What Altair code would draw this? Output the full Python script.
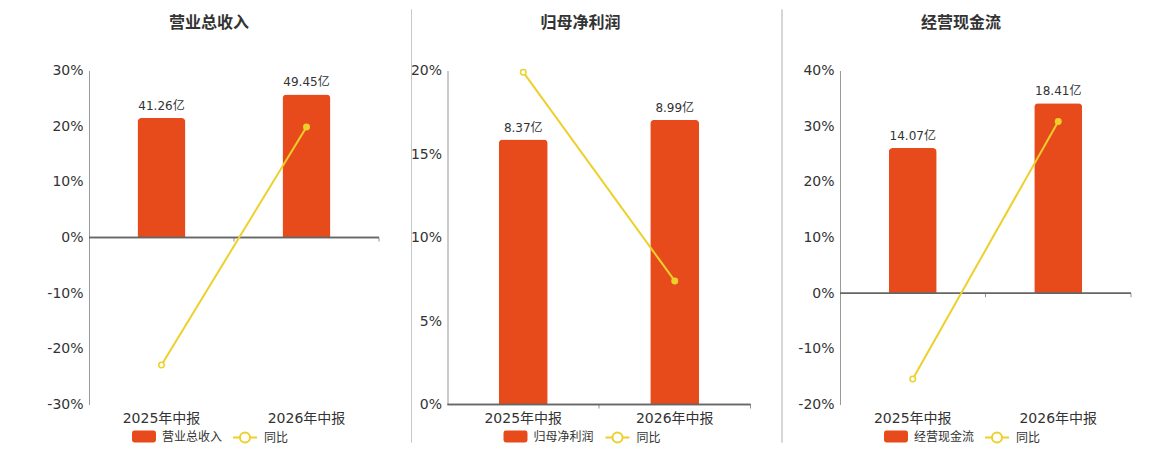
import altair as alt
import pandas as pd

categories = ["2025年中报", "2026年中报"]
panel_titles = ["营业总收入", "归母净利润", "经营现金流"]

revenue_amount = [41.26, 49.45]
revenue_yoy = [-22.9, 19.85]
profit_amount = [8.37, 8.99]
profit_yoy = [19.9, 7.4]
cash_amount = [14.07, 18.41]
cash_yoy = [-15.4, 30.85]

yoy_ticks = [[-30, -20, -10, 0, 10, 20, 30], [0, 5, 10, 15, 20], [-20, -10, 0, 10, 20, 30, 40]]
yoy_domains = [[-30, 30], [0, 20], [-20, 40]]
bar_domains = [[-57.7, 57.7], [0, 10.55], [-10.79, 21.58]]

BAR = "#E84B1B"
YEL = "#EDD02B"
NUM_FONT = "DejaVu Sans, Noto Sans CJK SC"
CJK_FONT = "Noto Sans CJK SC"

RECT_PATH = ("M-0.8,-0.5L0.8,-0.5Q1,-0.5,1,-0.3L1,0.3Q1,0.5,0.8,0.5L-0.8,0.5"
             "Q-1,0.5,-1,0.3L-1,-0.3Q-1,-0.5,-0.8,-0.5Z")
LINE_PATH = ("M-1,0L-0.42,0M0.42,0L1,0M-0.42,0A0.42,0.42,0,1,1,0.42,0"
             "A0.42,0.42,0,1,1,-0.42,0Z")


def panel(name, amount, yoy, ydom, yticks, bdom, width, bar_size, title_dx, lx1, lx2,
          sep_x, sep_color, sep_bottom):
    df = pd.DataFrame({
        "cat": categories,
        "amount": amount,
        "yoy": yoy,
        "label": [f"{v:.2f}亿" for v in amount],
        "series": name,
        "yoyname": "同比",
        "idx": [0, 1],
    })
    base = alt.Chart(df)
    xscale = alt.Scale(paddingInner=0, paddingOuter=0)
    xaxis = alt.Axis(title=None, labelAngle=0, domain=False, ticks=False, tickSize=0,
                     labelPadding=7, labelFontSize=14, labelColor="#333",
                     labelFont=NUM_FONT, grid=False)
    x = alt.X("cat:N", sort=categories, scale=xscale, axis=xaxis)
    xtick = alt.X("cat:N", sort=categories, scale=xscale, axis=xaxis, bandPosition=1)

    ybar = alt.Y("amount:Q", scale=alt.Scale(domain=bdom, nice=False, zero=False), axis=None)
    yscale = alt.Scale(domain=ydom, nice=False, zero=False)
    yaxis = alt.Axis(orient="left", values=yticks, labelExpr="datum.value + '%'", title=None,
                     ticks=False, tickSize=0, labelPadding=6, labelFontSize=14,
                     labelColor="#333", labelFont=NUM_FONT, domainColor="#999",
                     gridColor="#E6E6E6")
    yy = alt.Y("yoy:Q", scale=yscale, axis=yaxis)
    y0 = alt.Y(datum=0, scale=yscale, axis=yaxis)

    bars = base.mark_bar(size=bar_size, cornerRadiusTopLeft=4, cornerRadiusTopRight=4).encode(
        x=x, y=ybar,
        fill=alt.Fill("series:N", scale=alt.Scale(domain=[name], range=[BAR]),
                      legend=alt.Legend(orient="none", legendX=lx1, legendY=354, title=None,
                                        symbolType=RECT_PATH, symbolSize=576,
                                        symbolStrokeWidth=0, labelFontSize=12,
                                        labelFont=CJK_FONT, labelColor="#333",
                                        labelOffset=6, padding=0)),
    )
    text = base.mark_text(baseline="bottom", dy=-5, fontSize=12, font=NUM_FONT,
                          color="#333").encode(x=x, y=ybar, text="label:N")

    line = base.mark_line(strokeWidth=2).encode(
        x=x, y=yy,
        stroke=alt.Stroke("yoyname:N", scale=alt.Scale(domain=["同比"], range=[YEL]),
                          legend=alt.Legend(orient="none", legendX=lx2, legendY=354, title=None,
                                            symbolType=LINE_PATH, symbolSize=576,
                                            symbolStrokeWidth=2, symbolFillColor="white",
                                            labelFontSize=12, labelFont=CJK_FONT,
                                            labelColor="#333", labelOffset=6, padding=0)),
    )
    points = base.mark_point(filled=True, size=30, stroke=YEL, strokeWidth=1.5, opacity=1).encode(
        x=x, y=yy,
        fill=alt.condition("datum.idx == 0", alt.value("white"), alt.value(YEL)),
    )
    zero = base.mark_rule(color="#666", strokeWidth=1.5).encode(y=y0)
    ticks = base.mark_tick(orient="vertical", size=4, thickness=1, color="#666",
                           yOffset=2).encode(x=xtick, y=y0)

    # thin vertical divider on the left of the panel (a tiny white stub for panel 1,
    # so that all three panels share the same top edge)
    sep = base.mark_rule(color=sep_color, strokeWidth=1).encode(
        x=alt.value(sep_x), y=alt.value(-61), y2=alt.value(sep_bottom))

    layers = [alt.layer(bars, text), alt.layer(zero, ticks, line, points), sep]
    return alt.layer(*layers).resolve_scale(y="independent").properties(
        width=width, height=334,
        title=alt.TitleParams(name, fontSize=16, font=CJK_FONT, fontWeight="bold",
                              color="#333", dx=title_dx, offset=-22, anchor="middle"),
    )


p1 = panel(panel_titles[0], revenue_amount, revenue_yoy, yoy_domains[0], yoy_ticks[0],
           bar_domains[0], 290, 48, -25, 43, 143, 145, "#FFFFFF", -59)
p2 = panel(panel_titles[1], profit_amount, profit_yoy, yoy_domains[1], yoy_ticks[1],
           bar_domains[1], 303, 49, -18.5, 56, 157, -36, "#C8C8C8", 372)
p3 = panel(panel_titles[2], cash_amount, cash_yoy, yoy_domains[2], yoy_ticks[2],
           bar_domains[2], 291, 48, -24.5, 44, 144, -58, "#C8C8C8", 372)

chart = alt.hconcat(p1, p2, p3, spacing=29.5).resolve_scale(
    fill="independent", stroke="independent").resolve_legend(
    fill="independent", stroke="independent").properties(
    padding={"left": 38, "top": 0.5, "right": 0, "bottom": 0}
).configure_view(stroke=None)

chart.save("out.html", embed_options={"renderer": "svg", "actions": False})
